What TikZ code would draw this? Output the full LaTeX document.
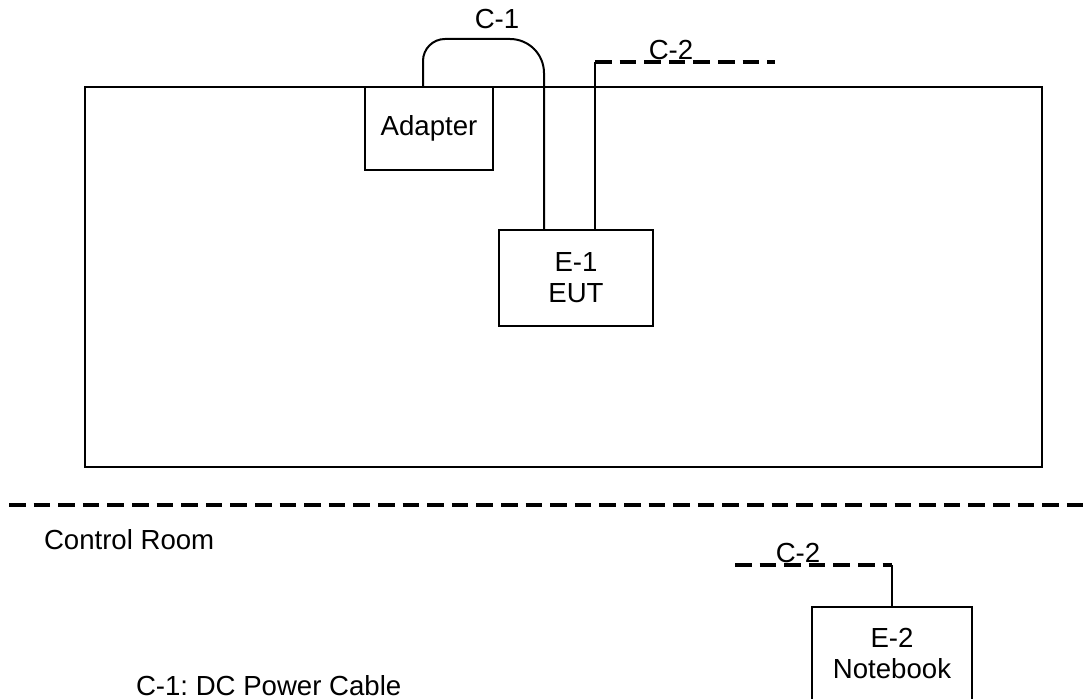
\documentclass[tikz,border=0pt]{standalone}
\usepackage{fontspec}
\setmainfont{Liberation Sans}
\usepackage{tikz}
\usetikzlibrary{positioning, calc}
\frenchspacing

\begin{document}
\begin{tikzpicture}[
        x=0.5pt, y=-0.5pt,
        font=\fontsize{13.8}{15.5}\selectfont,
        line width=1pt,
        box/.style={
          rectangle, draw=black, line width=1pt,
          align=center, inner sep=0pt
        },
        cable/.style={draw=black, line width=1pt},
        dashedCable/.style={cable, line width=1.6pt, dash pattern=on 8.3pt off 4pt},
        label/.style={inner sep=0pt}
      ]
      \useasboundingbox (0,0) rectangle (1089,699);

      % --- TEST SITE ---
      \node[box, minimum width=478.5pt, minimum height=190pt] (rack) at (563.5,277) {};
      \node[box, minimum width=64pt, minimum height=41.5pt] (adapter) at (429,128.5) {Adapter};
      \node[box, minimum width=77pt, minimum height=48pt] (eut) at (576,278) {E-1\\EUT};

      % C-1: adapter -> EUT
      \coordinate (c1left) at (423,39);
      \coordinate (c1mid) at (495,39);
      \coordinate (c1right) at (544,39);
      \draw[cable, rounded corners=11pt] (c1left |- adapter.north) -- (c1left) -- (c1mid);
      \draw[cable, rounded corners=17pt] (c1mid) -- (c1right) -- (c1right |- eut.north);
      \node[label] (c1lbl) at (497,19) {C-1};

      % C-2: EUT -> control room
      \coordinate (c2up) at (595,62);
      \coordinate (c2end) at (775,62);
      \draw[cable] (c2up |- eut.north) -- (c2up);
      \draw[dashedCable] (c2up) -- (c2end);
      \node[label] (c2lbl) at (671,50) {C-2};

      % --- CONTROL ROOM ---
      \coordinate (wallL) at (9,505);
      \coordinate (wallR) at (1089,505);
      \draw[dashedCable] (wallL) -- (wallR);
      \node[label, anchor=west] (room) at (43,540) {Control Room};

      \node[box, minimum width=80pt, minimum height=47pt] (notebook) at (892,654) {E-2\\Notebook};
      \coordinate (c2low) at (892,565);
      \coordinate (c2start) at (735,565);
      \draw[cable] (notebook.north) -- (c2low);
      \draw[dashedCable] (c2start) -- (c2low);
      \node[label] (c2lbl2) at (798,553) {C-2};

      \node[label, anchor=west] (legend) at (135,686) {C-1: DC Power Cable};

    \end{tikzpicture}
\end{document}
